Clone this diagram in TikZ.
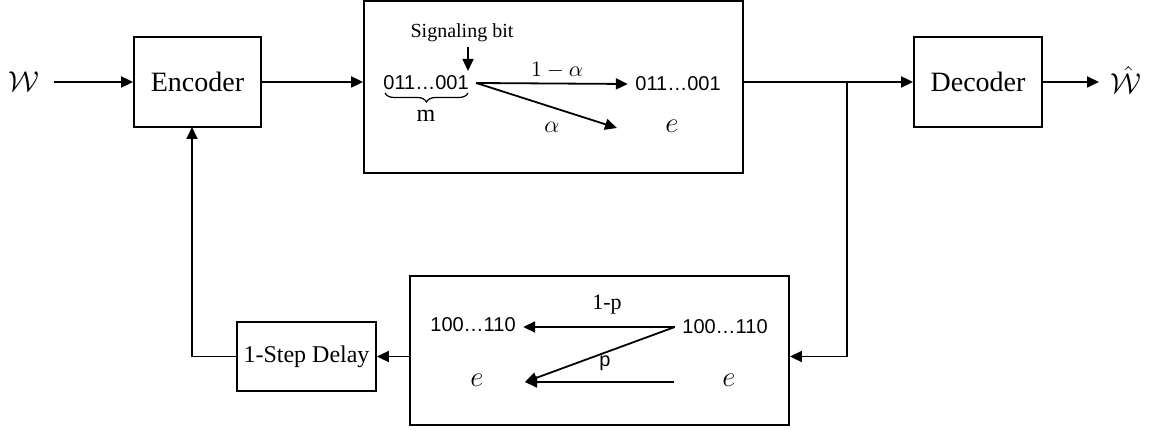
\documentclass[tikz,border=0pt]{standalone}
\usepackage{fontspec}
\setmainfont{Liberation Serif}
\newfontfamily\sansf{Liberation Sans}
\usetikzlibrary{arrows.meta,decorations.pathreplacing}
\newcommand{\fsz}[1]{\fontsize{#1pt}{#1pt}\selectfont}
\begin{document}
\begin{tikzpicture}[x=0.5pt,y=-0.5pt, line width=0.9pt,
  box/.style={draw, rectangle, inner sep=0pt},
  arr/.style={-{Triangle[length=6pt,width=5.5pt]}},
  bits/.style={font=\sansf\fsz{10}},
  lbl/.style={inner sep=0pt}]
\useasboundingbox (0,0) rectangle (1154,431);
% main blocks
\node[lbl, font=\fsz{14}] (W) at (24,82) {$\mathcal{W}$};
\node[box, minimum width=63.5pt, minimum height=45pt, font=\fsz{14}] (enc) at (197.5,82) {Encoder};
\node[box, minimum width=189.5pt, minimum height=86pt] (chan) at (553.5,87) {};
\node[box, minimum width=64pt, minimum height=45pt, font=\fsz{14}] (dec) at (978,82) {Decoder};
\node[lbl, font=\fsz{14}] (What) at (1126,80) {$\hat{\mathcal{W}}$};
\node[box, minimum width=189.5pt, minimum height=74.5pt] (fb) at (599.5,350.5) {};
\node[box, minimum width=69.5pt, minimum height=34.5pt, font=\fsz{12}] (delay) at (306.5,356.5) {1-Step Delay};
\coordinate (br) at (847,82);
\coordinate (encin) at (192,127);
\coordinate (whtip) at (1099,82);
% main connectors
\draw[arr, shorten <=7pt] (W) -- (enc);
\draw[arr] (enc) -- (enc -| chan.west);
\draw[arr] (chan.east |- dec.west) -- (dec.west);
\draw[arr] (dec.east) -- (whtip);
\draw[arr] (br) |- (fb.east |- delay.east);
\draw[arr] (fb.west |- delay.east) -- (delay.east);
\draw[arr] (delay.west) -| (encin);
% channel interior
\node[bits] (s1) at (426,83) {011…001};
\node[bits] (s2) at (678,84) {011…001};
\node[lbl, font=\fsz{14}] (e1) at (672,126) {$e$};
\node[lbl, font=\fsz{10}] (sig) at (462,33) {Signaling bit};
\node[lbl, font=\fsz{12}] (m) at (426,116) {m};
\coordinate (sigtip) at (468,71);
\draw[arr, line width=0.8pt] (sigtip |- sig.south) ++(0,4) -- (sigtip);
\draw[decorate, decoration={brace, mirror, amplitude=4.5pt}, line width=0.6pt] (385,93) -- (468,93);
\coordinate (atip) at (617,128);
\draw[arr] (s1.east) -- (s2.west);
\draw[arr] (s1.east) -- (atip);
\node[lbl, font=\fsz{11}] (l1a) at (557,70) {$1-\alpha$};
\node[lbl, font=\fsz{12}] (la) at (552,127) {$\alpha$};
% feedback interior
\node[bits] (r1) at (725,327) {100…110};
\node[lbl, font=\fsz{15}] (r2) at (729,380) {$e$};
\node[bits] (q1) at (473,325) {100…110};
\node[lbl, font=\fsz{15}] (q2) at (477,380) {$e$};
\coordinate (ltip) at (525,382);
\coordinate (rtail) at (674,382);
\draw[arr] (r1.west) -- (q1.east |- r1.west);
\draw[arr] (r1.west) -- (ltip);
\draw[arr] (rtail) -- (ltip);
\node[lbl, font=\fsz{11}] (l1p) at (607,305) {1-p};
\node[lbl, font=\sansf\fsz{10}] (lp) at (605,363) {p};
\end{tikzpicture}
\end{document}
